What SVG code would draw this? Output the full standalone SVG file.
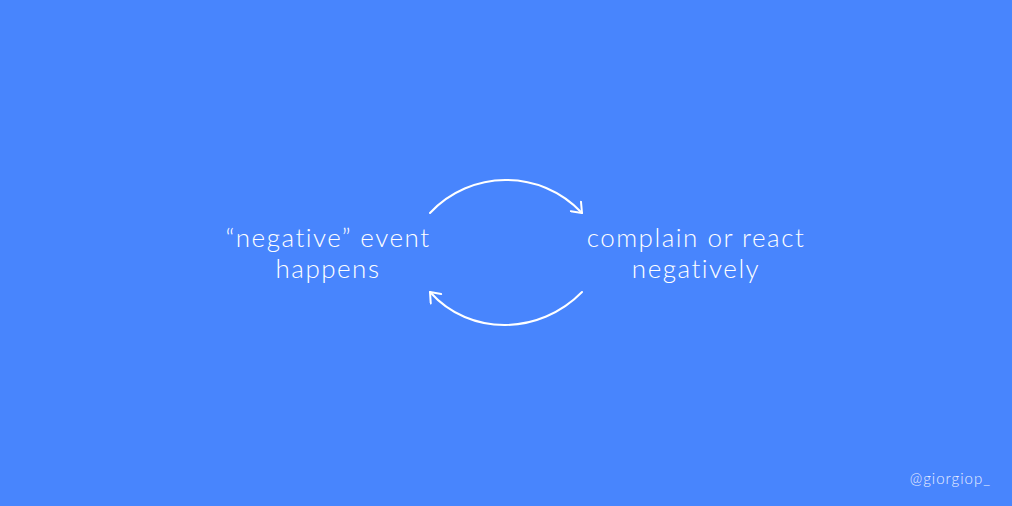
<svg xmlns="http://www.w3.org/2000/svg" width="1012" height="506" viewBox="0 0 1012 506">
<style>
.t{font-family:"Lato","Open Sans","Liberation Sans",sans-serif;font-weight:300;fill:#ffffff;font-size:26px;letter-spacing:1.5px;text-anchor:middle;font-variant-ligatures:none}
.h{font-family:"Lato","Open Sans","Liberation Sans",sans-serif;font-weight:300;fill:#e8efff;font-size:15px;letter-spacing:1px;text-anchor:end;font-variant-ligatures:none}
.c{fill:none;stroke:#ffffff;stroke-width:2;stroke-linecap:round}
</style>
<defs>
<marker id="ah" viewBox="-12 -8 14 16" markerWidth="14" markerHeight="16" refX="0" refY="0" orient="auto" markerUnits="userSpaceOnUse">
<path d="M-9,-7 L0,0 L-9,7" fill="none" stroke="#ffffff" stroke-width="2" stroke-linecap="round" stroke-linejoin="round"/>
</marker>
</defs>
<rect width="1012" height="506" fill="#4885fd"/>
<g id="connectors">
<path class="c" d="M430,213 C470,170 540,168 582,213" marker-end="url(#ah)"/>
<path class="c" d="M582,292 C540,335 470,337 430,292" marker-end="url(#ah)"/>
</g>
<g id="node-event">
<text class="t" x="328" y="247">“negative” event</text>
<text class="t" x="328" y="278">happens</text>
</g>
<g id="node-complain">
<text class="t" x="696" y="247">complain or react</text>
<text class="t" x="696" y="278">negatively</text>
</g>
<text class="h" x="991" y="484">@giorgiop_</text>
</svg>
